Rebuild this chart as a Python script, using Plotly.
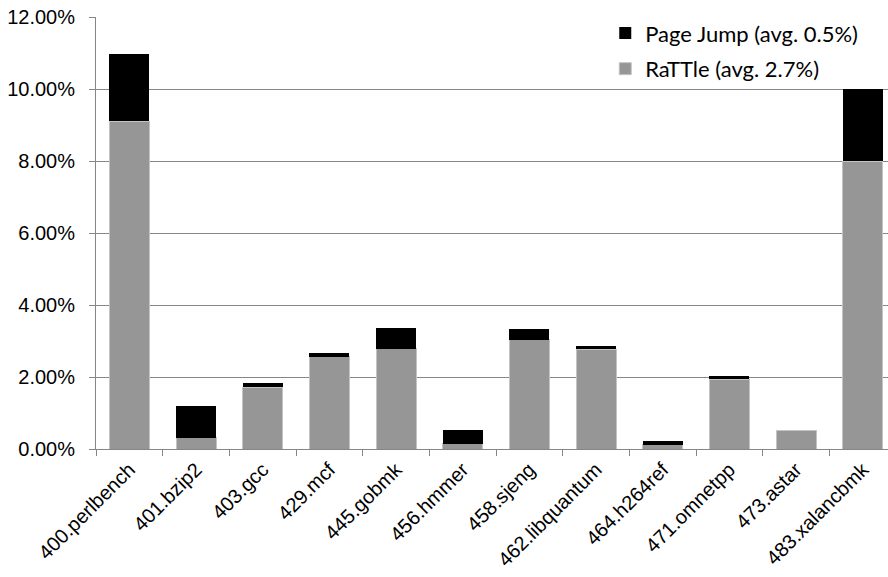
import plotly.graph_objects as go

benchmarks = ["400.perlbench", "401.bzip2", "403.gcc", "429.mcf", "445.gobmk",
              "456.hmmer", "458.sjeng", "462.libquantum", "464.h264ref",
              "471.omnetpp", "473.astar", "483.xalancbmk"]
rattle = [9.10, 0.31, 1.72, 2.56, 2.79, 0.15, 3.03, 2.77, 0.12, 1.94, 0.51, 8.00]
page_jump = [1.88, 0.88, 0.10, 0.11, 0.57, 0.37, 0.29, 0.09, 0.10, 0.10, 0.00, 2.00]
y_ticks = [0, 2, 4, 6, 8, 10, 12]

fig = go.Figure()
fig.add_trace(go.Bar(
    x=benchmarks, y=rattle, name="RaTTle (avg. 2.7%)",
    legendgroup="r", legendrank=2,
    marker=dict(color="#969696", line=dict(color="#c4c4c4", width=1)),
))
fig.add_trace(go.Bar(
    x=benchmarks, y=page_jump, name="Page Jump (avg. 0.5%)",
    legendgroup="p", legendrank=1,
    marker=dict(color="#000000", line=dict(width=0)),
))

fig.update_layout(
    width=888, height=577,
    margin=dict(l=96, r=0, t=17, b=128),
    barmode="stack", bargap=0.4,
    plot_bgcolor="white", paper_bgcolor="white",
    showlegend=True,
    legend=dict(
        x=0.643, y=1.011, xanchor="left", yanchor="top",
        traceorder="grouped", tracegroupgap=4,
        font=dict(family="Lato", size=22, color="black"),
        bgcolor="rgba(0,0,0,0)",
    ),
    xaxis=dict(
        range=[-0.5, 11.38], tickangle=-45,
        tickfont=dict(family="Liberation Sans, Arial", size=20, color="black"),
        showline=True, linecolor="#868686", linewidth=1,
        ticks="outside", ticklen=6, tickcolor="#868686",
        tickson="boundaries", showgrid=False,
        ticklabelshift=0,
    ),
    yaxis=dict(
        range=[0, 12], tickvals=y_ticks,
        ticktext=[f"{v:.2f}%" for v in y_ticks],
        tickfont=dict(family="Liberation Sans, Arial", size=20, color="black"),
        showline=True, linecolor="#868686", linewidth=1,
        ticks="outside", ticklen=6, tickcolor="#868686",
        showgrid=True, gridcolor="#868686", gridwidth=1,
        zeroline=False, ticklabelstandoff=10,
    ),
)

fig.write_html("out.html")
